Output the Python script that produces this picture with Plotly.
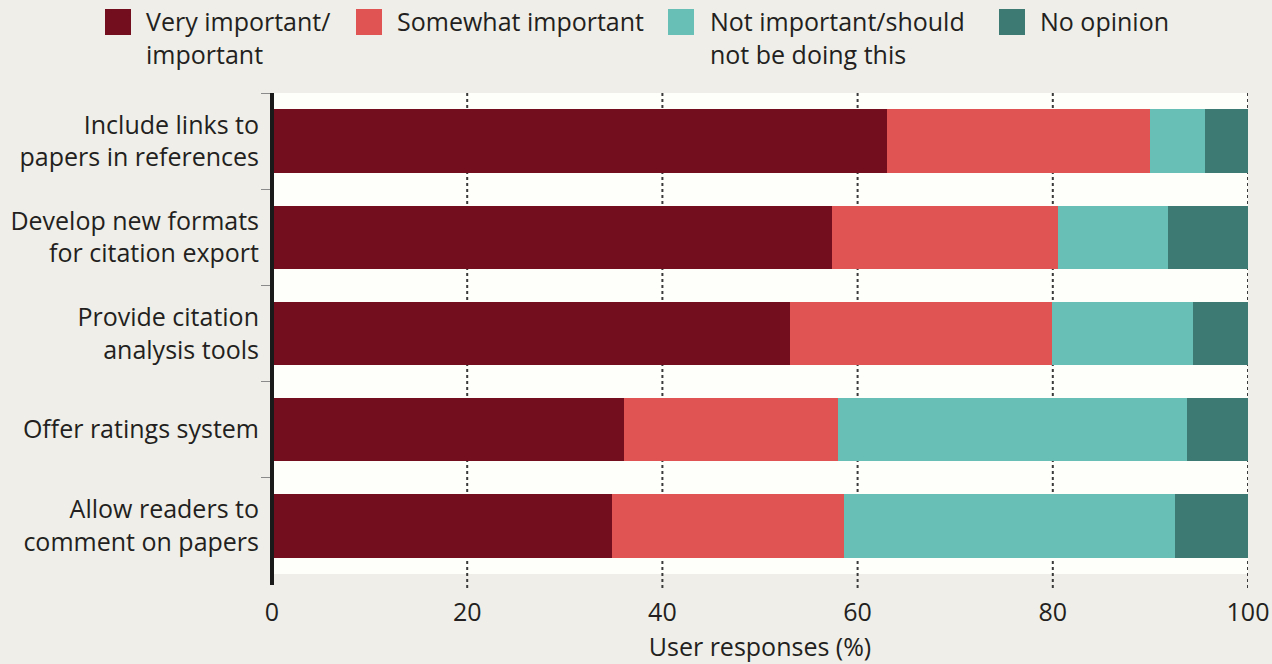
import plotly.graph_objects as go

categories = [
    "Include links to<br>papers in references",
    "Develop new formats<br>for citation export",
    "Provide citation<br>analysis tools",
    "Offer ratings system",
    "Allow readers to<br>comment on papers",
]
series_names = [
    "Very important/<br>important",
    "Somewhat important",
    "Not important/should<br>not be doing this",
    "No opinion",
]
very_important = [63.0, 57.4, 53.1, 36.1, 34.8]
somewhat_important = [27.0, 23.1, 26.8, 21.9, 23.8]
not_important = [5.6, 11.3, 14.5, 35.8, 33.9]
no_opinion = [4.4, 8.2, 5.6, 6.2, 7.5]
x_ticks = [0, 20, 40, 60, 80, 100]

colors = ["#720e1e", "#e05553", "#67bfb5", "#3d7a74"]
values = [very_important, somewhat_important, not_important, no_opinion]

W, H = 1272, 664
ML, MR, MT, MB = 272, 24, 93, 90
PW, PH = W - ML - MR, H - MT - MB
FONT = "Open Sans"
FS = 25
TXT = "#231f20"


def px_x(px):
    return (px - ML) / PW


def px_y(py):
    return (H - MB - py) / PH


fig = go.Figure()
for name, vals, col in zip(series_names, values, colors):
    fig.add_trace(go.Bar(
        y=categories, x=vals, orientation="h", name=name.replace("<br>", " "),
        marker=dict(color=col, line=dict(width=0)),
        showlegend=False, hoverinfo="x+y",
    ))

shapes = []
# dotted gridlines
for t in x_ticks[1:]:
    shapes.append(dict(type="line", xref="x", yref="paper", x0=t, x1=t,
                       y0=px_y(588), y1=1, layer="below",
                       line=dict(color="#3a3a3a", width=2, dash="dot")))
# thick y-axis line
shapes.append(dict(type="line", xref="paper", yref="paper", x0=0, x1=0,
                   y0=px_y(585), y1=1, layer="above",
                   line=dict(color="#1a1a1a", width=4)))

# manual legend
legend_swatch_x = [105, 356, 668, 999]
legend_text_x = [144, 395, 708, 1038]
annotations = []
for sx, tx, name, col in zip(legend_swatch_x, legend_text_x, series_names, colors):
    shapes.append(dict(type="rect", xref="paper", yref="paper",
                       x0=px_x(sx), x1=px_x(sx + 26), y0=px_y(35), y1=px_y(9),
                       fillcolor=col, line=dict(width=0), layer="above"))
    annotations.append(dict(xref="paper", yref="paper", x=px_x(tx), y=px_y(2),
                            xanchor="left", yanchor="top", align="left",
                            showarrow=False, text=name,
                            font=dict(family=FONT, size=FS, color=TXT)))

fig.update_layout(
    width=W, height=H,
    margin=dict(l=ML, r=MR, t=MT, b=MB, autoexpand=False),
    paper_bgcolor="#efeee8",
    plot_bgcolor="#fefefa",
    barmode="stack",
    bargap=0.34,
    font=dict(family=FONT, size=FS, color=TXT),
    shapes=shapes,
    annotations=annotations,
    xaxis=dict(
        range=[0, 100], tickvals=x_ticks, showgrid=False, zeroline=False,
        showline=False, ticks="outside", ticklen=16, tickcolor="rgba(0,0,0,0)",
        tickfont=dict(family=FONT, size=FS, color=TXT), automargin=False,
        title=dict(text="User responses (%)", standoff=11,
                   font=dict(family=FONT, size=FS, color=TXT)),
        fixedrange=True,
    ),
    yaxis=dict(
        categoryorder="array", categoryarray=categories, autorange="reversed",
        showgrid=False, zeroline=False, showline=False, automargin=False,
        ticks="outside", tickson="boundaries", ticklen=10, tickcolor="#8a8a8a",
        tickwidth=1, tickfont=dict(family=FONT, size=FS, color=TXT),
        ticklabelstandoff=12,
        fixedrange=True,
    ),
)

fig.write_html("out.html")
